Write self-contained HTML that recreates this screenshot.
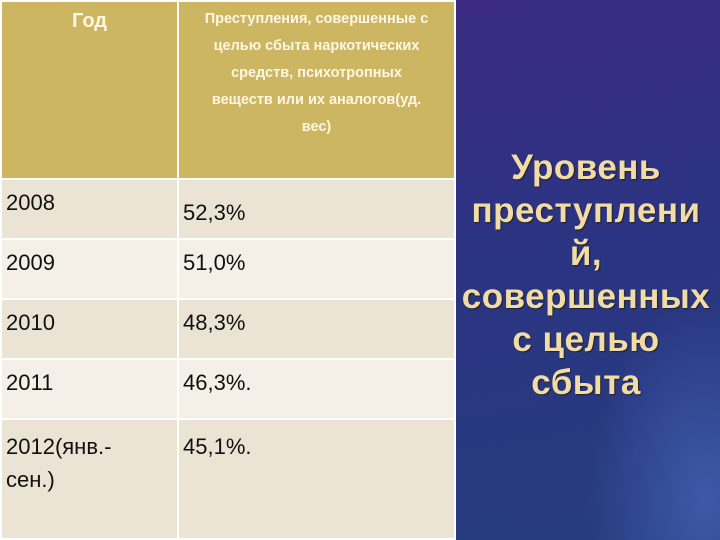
<!DOCTYPE html>
<html><head><meta charset="utf-8"><style>
body{margin:0;width:720px;height:540px;overflow:hidden;position:relative;font-family:"Liberation Sans",sans-serif;background:#2a2f7a}
#panel{position:absolute;left:456px;top:0;width:264px;height:540px;background:radial-gradient(ellipse 120px 200px at 250px 500px,#3d5aa8,rgba(0,0,0,0)),linear-gradient(170deg,#3a2a82 0%,#2b3482 45%,#263c7e 100%)}
#title{position:absolute;left:452px;top:146px;width:268px;text-align:center;color:#f0dca4;font-weight:bold;font-size:35px;letter-spacing:0.5px;line-height:43px;text-shadow:1px 1px 1px #222;white-space:nowrap}
table{position:absolute;left:0;top:0;width:456px;height:540px;border-collapse:collapse}
td{border:2px solid #fff;vertical-align:top;font-family:"Liberation Sans","DejaVu Sans",sans-serif;font-size:22px;color:#111;padding:0 4px}
td.h{background:#cdb661;color:#fff7e4;font-weight:bold;text-align:center;font-size:14.5px;line-height:27px;padding-top:4px}
tr.a td{background:#ebe4d5}tr.b td{background:#f4f0e7}
</style></head><body>
<div id="panel"></div>
<div id="title">Уровень<br>преступлени<br>й,<br>совершенных<br>с целью<br>сбыта</div>
<table>
<tr style="height:178px"><td class="h" style="width:167px;font-size:20px;padding-top:6px">Год</td><td class="h">Преступления, совершенные с<br>целью сбыта наркотических<br>средств, психотропных<br>веществ или их аналогов(уд.<br>вес)</td></tr>
<tr class="a" style="height:60px"><td style="padding-top:10px">2008</td><td style="padding-top:20px">52,3%</td></tr>
<tr class="b" style="height:60px"><td style="padding-top:10px">2009</td><td style="padding-top:10px">51,0%</td></tr>
<tr class="a" style="height:60px"><td style="padding-top:10px">2010</td><td style="padding-top:10px">48,3%</td></tr>
<tr class="b" style="height:60px"><td style="padding-top:10px">2011</td><td style="padding-top:10px">46,3%.</td></tr>
<tr class="a"><td style="padding-top:10px;line-height:33px">2012(янв.-<br>сен.)</td><td style="padding-top:10px;line-height:33px">45,1%.</td></tr>
</table>
</body></html>
